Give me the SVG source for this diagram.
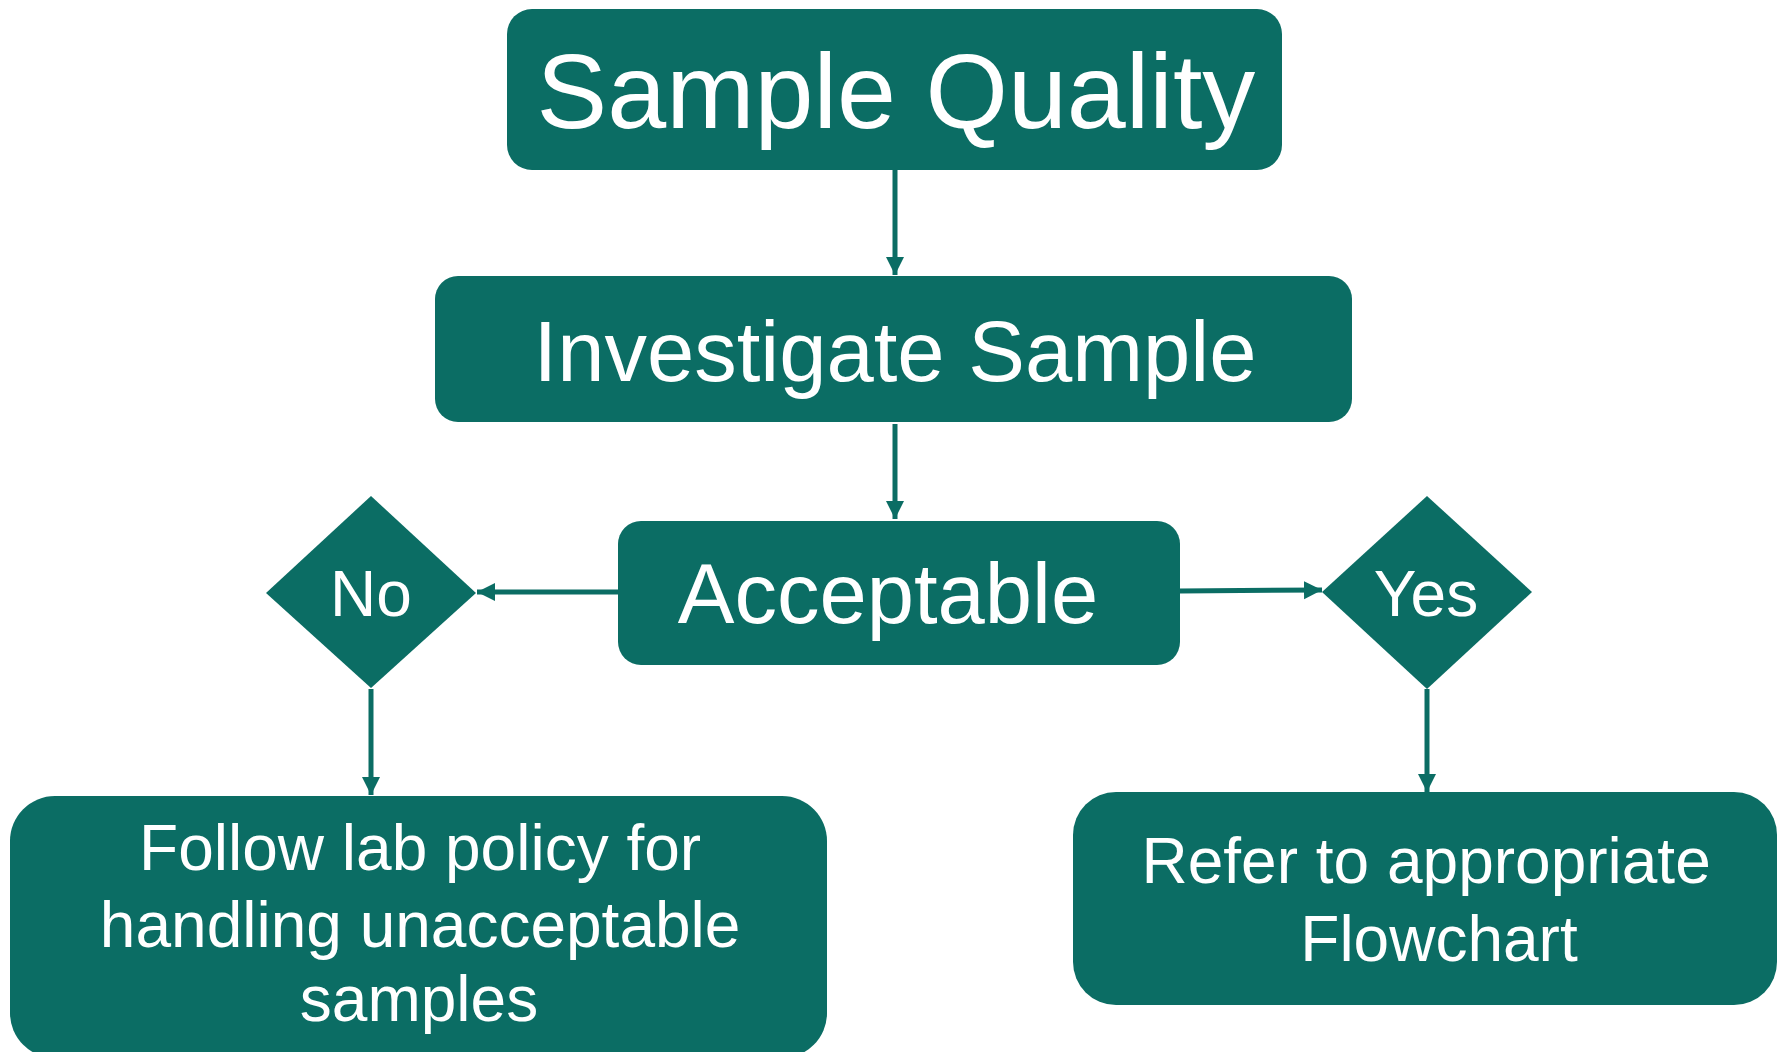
<svg xmlns="http://www.w3.org/2000/svg" width="1779" height="1052" viewBox="0 0 1779 1052">
  <style>
    .box { fill: #0b6d64; }
    .lbl { fill: #ffffff; font-family: "Liberation Sans", Arial, sans-serif; text-anchor: middle; }
    .conn { stroke: #0b6d64; stroke-width: 5; fill: none; }
  </style>
  <defs>
    <marker id="arrow" markerUnits="userSpaceOnUse" markerWidth="20" markerHeight="20" viewBox="0 0 20 20" refX="18" refY="10" orient="auto">
      <path d="M0,1 L18,10 L0,19 Z" fill="#0b6d64"/>
    </marker>
  </defs>
  <rect width="1779" height="1052" fill="#ffffff"/>

  <g id="connectors">
    <line class="conn" x1="895" y1="170" x2="895" y2="275" marker-end="url(#arrow)"/>
    <line class="conn" x1="895" y1="424" x2="895" y2="519" marker-end="url(#arrow)"/>
    <line class="conn" x1="618" y1="592" x2="477" y2="592" marker-end="url(#arrow)"/>
    <line class="conn" x1="1180" y1="591" x2="1322" y2="590" marker-end="url(#arrow)"/>
    <line class="conn" x1="371" y1="689" x2="371" y2="795" marker-end="url(#arrow)"/>
    <line class="conn" x1="1427" y1="689" x2="1427" y2="792" marker-end="url(#arrow)"/>
  </g>

  <g id="sample-quality">
    <rect class="box" x="507" y="9" width="775" height="161" rx="25" ry="25"/>
    <text class="lbl" x="896" y="128" font-size="106">Sample Quality</text>
  </g>

  <g id="investigate-sample">
    <rect class="box" x="435" y="276" width="917" height="146" rx="23" ry="23"/>
    <text class="lbl" x="895" y="381" font-size="85">Investigate Sample</text>
  </g>

  <g id="acceptable">
    <rect class="box" x="618" y="521" width="562" height="144" rx="23" ry="23"/>
    <text class="lbl" x="888" y="623" font-size="85">Acceptable</text>
  </g>

  <g id="no">
    <polygon class="box" points="266,593 371,496 476,593 371,688"/>
    <text class="lbl" x="371" y="616" font-size="64">No</text>
  </g>

  <g id="yes">
    <polygon class="box" points="1322,592 1427,496 1532,592 1427,689"/>
    <text class="lbl" x="1426" y="616" font-size="64">Yes</text>
  </g>

  <g id="follow-lab-policy">
    <rect class="box" x="10" y="796" width="817" height="262" rx="45" ry="45"/>
    <text class="lbl" font-size="64">
      <tspan x="429" y="870">Follow lab policy for</tspan>
      <tspan x="429" y="947">handling unacceptable</tspan>
      <tspan x="419" y="1021">samples</tspan>
    </text>
  </g>

  <g id="refer-flowchart">
    <rect class="box" x="1073" y="792" width="704" height="213" rx="43" ry="43"/>
    <text class="lbl" font-size="64">
      <tspan x="1435" y="883">Refer to appropriate</tspan>
      <tspan x="1439" y="961">Flowchart</tspan>
    </text>
  </g>
</svg>
